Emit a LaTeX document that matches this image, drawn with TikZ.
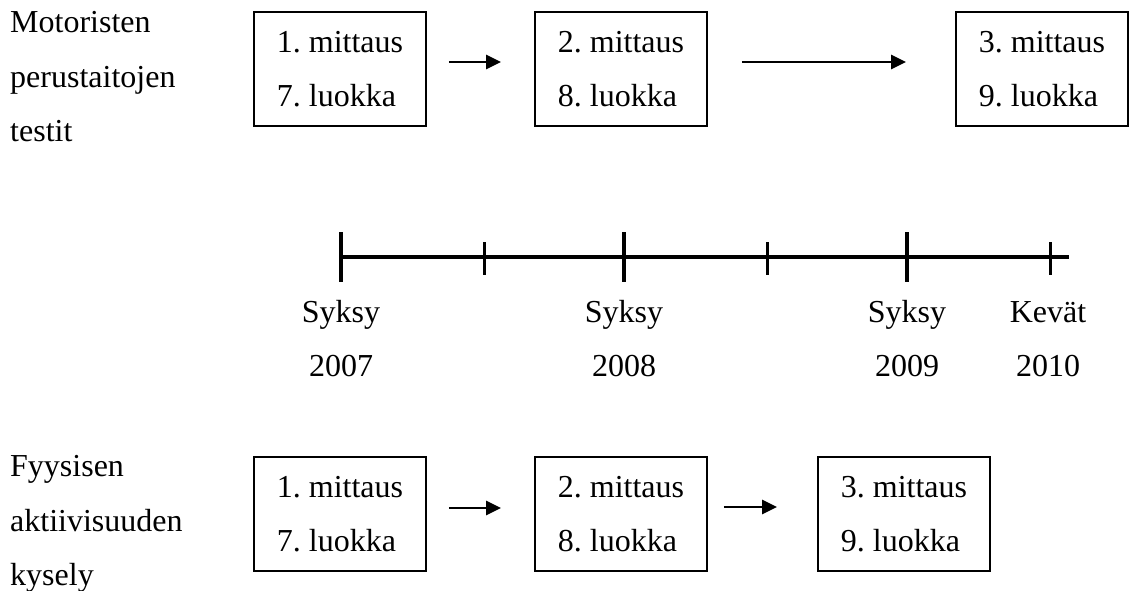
\documentclass[tikz,border=0pt]{standalone}
\usepackage{fontspec}
\setmainfont{Liberation Serif}
\usetikzlibrary{arrows.meta}
\frenchspacing
\begin{document}
\begin{tikzpicture}[x=1pt,y=-1pt,
  txt/.style={font=\fontsize{32}{54}\selectfont, inner sep=0pt},
  mbox/.style={draw, line width=1.8pt, minimum width=172pt, minimum height=114pt,
    inner sep=0pt, align=left, font=\fontsize{32}{54}\selectfont},
  arr/.style={line width=2.5pt, -{Triangle[length=15pt,width=14pt]}},
  axis/.style={line width=4pt},
  bigtick/.style={line width=3.5pt},
  smalltick/.style={line width=3pt}]
\useasboundingbox (0,0) rectangle (1130,591);

% Row labels
\node[txt, anchor=base west] (m1) at (10,33)  {Motoristen};
\node[txt, anchor=base west] (m2) at (10,88)  {perustaitojen};
\node[txt, anchor=base west] (m3) at (10,142) {testit};
\node[txt, anchor=base west] (f1) at (10,476) {Fyysisen};
\node[txt, anchor=base west] (f2) at (10,531) {aktiivisuuden};
\node[txt, anchor=base west] (f3) at (10,585) {kysely};

% Motor skills measurements
\node[mbox] (t1) at (340,69)  {1. mittaus\\7. luokka};
\node[mbox] (t2) at (621,69)  {2. mittaus\\8. luokka};
\node[mbox] (t3) at (1042,69) {3. mittaus\\9. luokka};
\draw[arr] ([shift={(22,-7)}]t1.east) -- ([shift={(-33,-7)}]t2.west);
\draw[arr] ([shift={(34,-7)}]t2.east) -- ([shift={(-49,-7)}]t3.west);

% Physical activity questionnaire
\node[mbox] (q1) at (340,514) {1. mittaus\\7. luokka};
\node[mbox] (q2) at (621,514) {2. mittaus\\8. luokka};
\node[mbox] (q3) at (904,514) {3. mittaus\\9. luokka};
\draw[arr] ([shift={(22,-6)}]q1.east) -- ([shift={(-33,-6)}]q2.west);
\draw[arr] ([shift={(16,-7)}]q2.east) -- ([shift={(-40,-7)}]q3.west);

% Time axis
\coordinate (k1) at (341,257);
\coordinate (k2) at (484,257);
\coordinate (k3) at (624,257);
\coordinate (k4) at (767,257);
\coordinate (k5) at (907,257);
\coordinate (k6) at (1050,257);
\coordinate (kend) at (1069,257);
\draw[axis] (k1) -- (kend);
\foreach \k in {k1,k3,k5}
  \draw[bigtick] ([yshift=25pt]\k) -- ([yshift=-25pt]\k);
\foreach \k in {k2,k4,k6}
  \draw[smalltick] ([yshift=15pt]\k) -- ([yshift=-18pt]\k);

\node[txt, anchor=base] (s1) at (341,322)  {Syksy};
\node[txt, anchor=base] (y1) at (341,376)  {2007};
\node[txt, anchor=base] (s2) at (624,322)  {Syksy};
\node[txt, anchor=base] (y2) at (624,376)  {2008};
\node[txt, anchor=base] (s3) at (907,322)  {Syksy};
\node[txt, anchor=base] (y3) at (907,376)  {2009};
\node[txt, anchor=base] (s4) at (1048,322) {Kevät};
\node[txt, anchor=base] (y4) at (1048,376) {2010};
\end{tikzpicture}
\end{document}
